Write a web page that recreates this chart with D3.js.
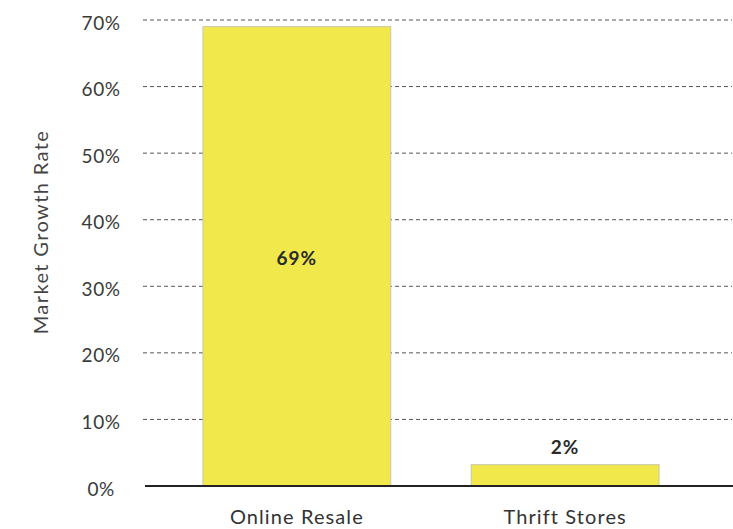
<!DOCTYPE html>
<html>
<head>
<meta charset="utf-8">
<script src="https://cdn.jsdelivr.net/npm/d3@7"></script>
<style>
  body { margin: 0; background: #fff; }
  text { font-family: Lato, "Open Sans", sans-serif; }
</style>
</head>
<body>
<div id="chart"></div>
<script>
// chart data
var categories = ["Online Resale", "Thrift Stores"];
var growth = [69, 3.2];
var barLabels = ["69%", "2%"];
var yTicks = [0, 10, 20, 30, 40, 50, 60, 70];

var width = 733, height = 529;
var margin = {top: 20, right: 0, bottom: 43, left: 145};

var svg = d3.select("#chart").append("svg")
  .attr("width", width)
  .attr("height", height);

var x = d3.scaleBand()
  .domain(categories)
  .range([margin.left, 717])
  .paddingInner(0.3)
  .paddingOuter(0.216);

var y = d3.scaleLinear()
  .domain([0, 70])
  .range([height - margin.bottom, margin.top]);

// dashed grid lines
svg.append("g").selectAll("line")
  .data(yTicks.filter(function(t) { return t > 0; }))
  .enter().append("line")
    .attr("x1", margin.left - 2)
    .attr("x2", 732)
    .attr("y1", function(d) { return y(d); })
    .attr("y2", function(d) { return y(d); })
    .attr("stroke", "#555")
    .attr("stroke-width", 1)
    .attr("stroke-dasharray", "4,3");

// y tick labels
svg.append("g").selectAll("text")
  .data(yTicks)
  .enter().append("text")
    .attr("x", 101)
    .attr("y", function(d) { return y(d) + 2; })
    .attr("text-anchor", "middle")
    .attr("dominant-baseline", "central")
    .attr("fill", "#3a3a3a")
    .style("font-size", "19px")
    .style("letter-spacing", "0.5px")
    .text(function(d) { return d + "%"; });

// bars
svg.append("g").selectAll("rect")
  .data(growth)
  .enter().append("rect")
    .attr("x", function(d, i) { return x(categories[i]); })
    .attr("y", function(d) { return y(d); })
    .attr("width", x.bandwidth())
    .attr("height", function(d) { return y(0) - y(d); })
    .attr("fill", "#f1e94c")
    .attr("stroke", "#c9c6a6")
    .attr("stroke-width", 1);

// baseline
svg.append("line")
  .attr("x1", margin.left)
  .attr("x2", width)
  .attr("y1", y(0))
  .attr("y2", y(0))
  .attr("stroke", "#222")
  .attr("stroke-width", 2);

// value labels
svg.append("g").selectAll("text")
  .data(growth)
  .enter().append("text")
    .attr("x", function(d, i) { return x(categories[i]) + x.bandwidth() / 2; })
    .attr("y", function(d) { return d > 10 ? (y(d) + y(0)) / 2 + 1 : y(d) - 18; })
    .attr("text-anchor", "middle")
    .attr("dominant-baseline", "central")
    .attr("fill", "#2a2a2a")
    .style("font-size", "19px")
    .style("font-weight", "bold")
    .style("letter-spacing", "1px")
    .text(function(d, i) { return barLabels[i]; });

// category labels
svg.append("g").selectAll("text")
  .data(categories)
  .enter().append("text")
    .attr("x", function(d) { return x(d) + x.bandwidth() / 2; })
    .attr("y", 516)
    .attr("text-anchor", "middle")
    .attr("dominant-baseline", "central")
    .attr("fill", "#333")
    .style("font-size", "20px")
    .style("letter-spacing", "1.1px")
    .text(function(d) { return d; });

// y axis title
svg.append("text")
  .attr("transform", "translate(40,232) rotate(-90)")
  .attr("text-anchor", "middle")
  .attr("dominant-baseline", "central")
  .attr("fill", "#444")
  .style("font-size", "20px")
  .style("letter-spacing", "1.4px")
  .text("Market Growth Rate");
</script>
</body>
</html>
